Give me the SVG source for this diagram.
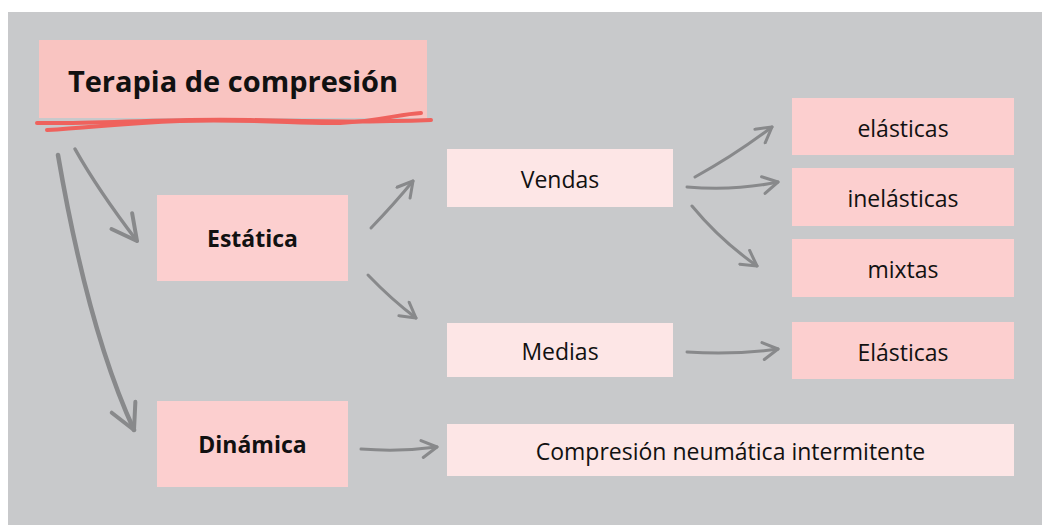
<svg xmlns="http://www.w3.org/2000/svg" width="1042" height="525" viewBox="0 0 1042 525">
  <style>
    .t { font-family: "Open Sans", "Noto Sans", "Liberation Sans", sans-serif; fill: #111; text-anchor: middle; }
    .reg { font-size: 23px; font-weight: 400; }
    .bold { font-size: 23px; font-weight: 700; }
    .title { font-size: 29px; font-weight: 700; }
    .c1 { fill: #f9c4c1; }
    .c2 { fill: #fccfcf; }
    .c3 { fill: #fde6e6; }
    .arr { fill: none; stroke: #88898b; stroke-linecap: round; }
    .ul { fill: none; stroke: #ef625d; stroke-width: 4; stroke-linecap: round; stroke-linejoin: round; }
  </style>
  <defs>
    <marker id="ah" markerUnits="userSpaceOnUse" markerWidth="20" markerHeight="20" viewBox="0 0 20 20" refX="17" refY="10" orient="auto">
      <path d="M2,1.5 L17,10 L2,18.5" fill="none" stroke="#88898b" stroke-width="3" stroke-linecap="round" stroke-linejoin="round"/>
    </marker>
    <marker id="ahL" markerUnits="userSpaceOnUse" markerWidth="32" markerHeight="32" viewBox="0 0 32 32" refX="28" refY="16" orient="auto">
      <path d="M3,3 L28,16 L3,29" fill="none" stroke="#88898b" stroke-width="4" stroke-linecap="round" stroke-linejoin="round"/>
    </marker>
  </defs>

  <rect x="8" y="12" width="1034" height="513" fill="#c8c9cb"/>

  <g id="connectors">
    <path class="arr" stroke-width="3.5" d="M75,149 Q98,190 137,241" marker-end="url(#ahL)"/>
    <path class="arr" stroke-width="4.5" d="M58,155 Q88,330 134,430" marker-end="url(#ahL)"/>
    <path class="arr" stroke-width="3" d="M371,228 Q395,203 413,181" marker-end="url(#ah)"/>
    <path class="arr" stroke-width="3" d="M368,275 Q392,300 416,318" marker-end="url(#ah)"/>
    <path class="arr" stroke-width="3" d="M695,177 Q735,155 772,127" marker-end="url(#ah)"/>
    <path class="arr" stroke-width="3" d="M687,187 Q735,191 778,182" marker-end="url(#ah)"/>
    <path class="arr" stroke-width="3" d="M692,206 Q720,240 757,266" marker-end="url(#ah)"/>
    <path class="arr" stroke-width="3" d="M687,352 Q735,355 778,349" marker-end="url(#ah)"/>
    <path class="arr" stroke-width="3" d="M361,449 Q400,452 437,447" marker-end="url(#ah)"/>
  </g>

  <g id="node-terapia">
    <rect class="c1" x="39" y="40" width="388" height="78"/>
    <path class="ul" d="M37,123 C100,124 170,118 250,120 C320,122 380,122 431,120"/>
    <path class="ul" d="M47,130 C90,128 120,123 180,121 C260,119 300,124 340,123 C380,121 400,114 421,113"/>
    <text class="t title" x="233" y="92">Terapia de compresión</text>
  </g>

  <g id="node-estatica">
    <rect class="c2" x="157" y="195" width="191" height="86"/>
    <text class="t bold" x="252.5" y="247">Estática</text>
  </g>

  <g id="node-dinamica">
    <rect class="c2" x="157" y="401" width="191" height="86"/>
    <text class="t bold" x="252.5" y="453">Dinámica</text>
  </g>

  <g id="node-vendas">
    <rect class="c3" x="447" y="149" width="226" height="58"/>
    <text class="t reg" x="560" y="188">Vendas</text>
  </g>

  <g id="node-medias">
    <rect class="c3" x="447" y="323" width="226" height="54"/>
    <text class="t reg" x="560" y="360">Medias</text>
  </g>

  <g id="node-elasticas">
    <rect class="c2" x="792" y="98" width="222" height="57"/>
    <text class="t reg" x="903" y="137">elásticas</text>
  </g>

  <g id="node-inelasticas">
    <rect class="c2" x="792" y="168" width="222" height="58"/>
    <text class="t reg" x="903" y="207">inelásticas</text>
  </g>

  <g id="node-mixtas">
    <rect class="c2" x="792" y="239" width="222" height="58"/>
    <text class="t reg" x="903" y="278">mixtas</text>
  </g>

  <g id="node-elasticas-medias">
    <rect class="c2" x="792" y="322" width="222" height="57"/>
    <text class="t reg" x="903" y="361">Elásticas</text>
  </g>

  <g id="node-compresion">
    <rect class="c3" x="447" y="424" width="567" height="52"/>
    <text class="t reg" x="730.5" y="460">Compresión neumática intermitente</text>
  </g>
</svg>
